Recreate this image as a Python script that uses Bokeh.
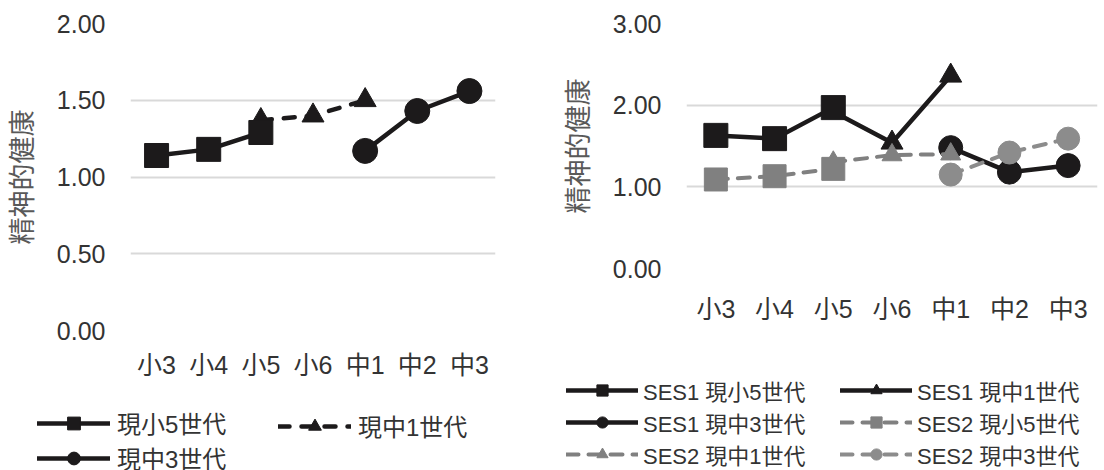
from bokeh.plotting import figure
from bokeh.layouts import row, column
from bokeh.models import (FactorRange, FixedTicker, NumeralTickFormatter,
                          Legend, LegendItem, Range1d)
from bokeh.embed import file_html
from bokeh.resources import INLINE

# School grades on the horizontal axis
grades = ["小3", "小4", "小5", "小6", "中1", "中2", "中3"]

# Left panel: mental health by cohort
left_sho5_x = ["小3", "小4", "小5"]
left_sho5_y = [1.14, 1.18, 1.29]
left_chu1_x = ["小5", "小6", "中1"]
left_chu1_y = [1.37, 1.40, 1.50]
left_chu3_x = ["中1", "中2", "中3"]
left_chu3_y = [1.17, 1.43, 1.56]
left_ticks = [0.0, 0.5, 1.0, 1.5, 2.0]

# Right panel: mental health by cohort and SES group
right_sho5_x = ["小3", "小4", "小5"]
right_chu1_x = ["小5", "小6", "中1"]
right_chu3_x = ["中1", "中2", "中3"]
ses1_sho5_y = [1.63, 1.59, 1.97]
ses1_chu1_y = [1.92, 1.54, 2.36]
ses1_chu3_y = [1.48, 1.18, 1.26]
ses2_sho5_y = [1.09, 1.13, 1.22]
ses2_chu1_y = [1.30, 1.39, 1.40]
ses2_chu3_y = [1.15, 1.42, 1.59]
right_ticks = [0.0, 1.0, 2.0, 3.0]

y_title = "精神的健康"

FONT = "Liberation Sans, Noto Sans CJK JP"
TXT = "#333333"
BLACK = "#1c1a1b"
GRAY = "#808080"
GRAY_L = "#8c8c8c"

SOLID = dict(line_dash="solid", lw=4.5)
DASH_L = dict(line_dash="11 12", lw=4.5)
DASH_G = dict(line_dash="12 10", lw=4)


def base_figure(width_frame, height_frame, left, right, top, bottom,
                y_end, ticks, x_standoff):
    p = figure(x_range=FactorRange(*grades, range_padding=0, factor_padding=0),
               y_range=(0, y_end),
               frame_width=width_frame, frame_height=height_frame,
               min_border_left=left, min_border_right=right,
               min_border_top=top, min_border_bottom=bottom,
               output_backend="svg", toolbar_location=None,
               background_fill_color="white", border_fill_color="white",
               outline_line_color=None)
    p.xgrid.grid_line_color = None
    p.ygrid.grid_line_color = "#d9d9d9"
    p.ygrid.grid_line_width = 2
    p.yaxis.ticker = FixedTicker(ticks=ticks)
    p.yaxis.formatter = NumeralTickFormatter(format="0.00")
    for ax in (p.xaxis[0], p.yaxis[0]):
        ax.axis_line_color = None
        ax.major_tick_line_color = None
        ax.minor_tick_line_color = None
        ax.major_label_text_font = FONT
        ax.major_label_text_font_size = "25px"
        ax.major_label_text_color = TXT
    p.yaxis.major_label_standoff = 19
    p.xaxis.major_label_standoff = x_standoff
    p.yaxis.axis_label = y_title
    p.yaxis.axis_label_text_font = FONT
    p.yaxis.axis_label_text_font_style = "normal"
    p.yaxis.axis_label_text_font_size = "27px"
    p.yaxis.axis_label_text_color = "#595959"
    p.yaxis.axis_label_standoff = 16
    return p


def series(p, xs, ys, color, marker, size, line_dash, lw):
    ln = p.line(xs, ys, line_color=color, line_width=lw, line_dash=line_dash,
                line_cap="round", line_join="round")
    mk = p.scatter(xs, ys, marker=marker, size=size, fill_color=color,
                   line_color=color, line_width=1)
    return [ln, mk]


def add_legend(q, items, loc, glyph_w, glyph_h, standoff, font_size):
    q.add_layout(Legend(items=items, location=loc, orientation="vertical",
                        glyph_width=glyph_w, glyph_height=glyph_h,
                        label_height=glyph_h, label_standoff=standoff,
                        spacing=0, padding=0, margin=0,
                        border_line_color=None, background_fill_alpha=0,
                        label_text_font=FONT, label_text_font_size=font_size,
                        label_text_color=TXT, label_text_baseline="middle"))


# ---- left panel ----
pl = base_figure(365, 307, 130, 55, 20, 49, 2.0, left_ticks, 14)
series(pl, left_chu1_x, left_chu1_y, BLACK, "triangle", 22, **DASH_L)
series(pl, left_sho5_x, left_sho5_y, BLACK, "square", 24, **SOLID)
series(pl, left_chu3_x, left_chu3_y, BLACK, "circle", 25, **SOLID)

# ---- right panel ----
pr = base_figure(411, 245, 136, 7, 23, 108, 3.0, right_ticks, 20)
series(pr, right_chu1_x, ses1_chu1_y, BLACK, "triangle", 22, **SOLID)
series(pr, right_sho5_x, ses1_sho5_y, BLACK, "square", 24, **SOLID)
series(pr, right_chu3_x, ses1_chu3_y, BLACK, "circle", 24, **SOLID)
series(pr, right_chu1_x, ses2_chu1_y, GRAY, "triangle", 20, **DASH_G)
series(pr, right_sho5_x, ses2_sho5_y, GRAY, "square", 23, **DASH_G)
series(pr, right_chu3_x, ses2_chu3_y, GRAY_L, "circle", 23, **DASH_G)

# ---- legend strip under both panels ----
# The series are repeated here only as legend swatches; the y range keeps
# their marks out of view.
lg = figure(width=1104, height=94,
            x_range=FactorRange(*grades, range_padding=0, factor_padding=0),
            y_range=Range1d(10, 11), x_axis_type=None, y_axis_type=None,
            min_border=0, min_border_left=0, min_border_right=0,
            min_border_top=0, min_border_bottom=0,
            output_backend="svg", toolbar_location=None,
            outline_line_color=None, border_fill_color="white",
            background_fill_color="white")
lg.grid.grid_line_color = None

k_sq = series(lg, left_sho5_x, left_sho5_y, BLACK, "square", 24, **SOLID)
k_tr = series(lg, left_chu1_x, left_chu1_y, BLACK, "triangle", 22, **DASH_L)
k_ci = series(lg, left_chu3_x, left_chu3_y, BLACK, "circle", 25, **SOLID)
add_legend(lg, [LegendItem(label="現小5世代", renderers=k_sq),
                LegendItem(label="現中3世代", renderers=k_ci)],
           (37, -3), 73, 32, 7, "24px")
add_legend(lg, [LegendItem(label="現中1世代", renderers=k_tr)],
           (278, 29), 73, 32, 7, "24px")

r1s = series(lg, right_sho5_x, ses1_sho5_y, BLACK, "square", 24, **SOLID)
r1t = series(lg, right_chu1_x, ses1_chu1_y, BLACK, "triangle", 22, **SOLID)
r1c = series(lg, right_chu3_x, ses1_chu3_y, BLACK, "circle", 24, **SOLID)
r2s = series(lg, right_sho5_x, ses2_sho5_y, GRAY, "square", 23, **DASH_G)
r2t = series(lg, right_chu1_x, ses2_chu1_y, GRAY, "triangle", 20, **DASH_G)
r2c = series(lg, right_chu3_x, ses2_chu3_y, GRAY_L, "circle", 23, **DASH_G)
add_legend(lg, [LegendItem(label="SES1 現小5世代", renderers=r1s),
                LegendItem(label="SES1 現中3世代", renderers=r1c),
                LegendItem(label="SES2 現中1世代", renderers=r2t)],
           (566, 2), 72, 28, 5, "22px")
add_legend(lg, [LegendItem(label="SES1 現中1世代", renderers=r1t),
                LegendItem(label="SES2 現小5世代", renderers=r2s),
                LegendItem(label="SES2 現中3世代", renderers=r2c)],
           (840, 2), 72, 28, 5, "22px")

layout = column(row(pl, pr, spacing=0), lg, spacing=0)
open("out.html", "w").write(file_html(layout, INLINE))
